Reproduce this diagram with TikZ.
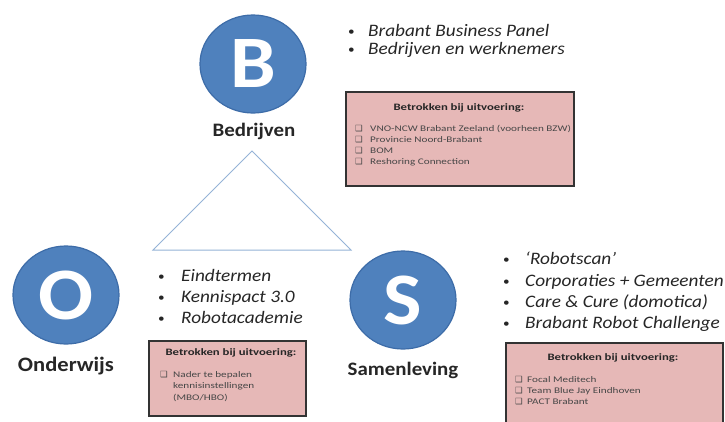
\documentclass[tikz,border=0pt]{standalone}
\usepackage{fontspec}
\setmainfont[FakeStretch=1.1]{Carlito}
\newfontfamily\boxfont[FakeStretch=1.3]{Carlito}
\newfontfamily\dejavu{DejaVu Sans}
\usetikzlibrary{shapes.geometric}
\definecolor{circblue}{HTML}{4F81BD}
\definecolor{circedge}{HTML}{3D6CA8}
\definecolor{boxpink}{HTML}{E6B8B7}
\definecolor{triline}{HTML}{95B3D7}
\definecolor{txtgray}{HTML}{262626}
\newcommand{\cbx}[1]{\makebox[#1][l]{\dejavu\fontsize{8.5}{8.5}\selectfont ❑}}
\begin{document}
\begin{tikzpicture}[x=1pt,y=-1pt,
  pillar/.style={ellipse, fill=circblue, draw=circedge, line width=1.2pt,
    minimum width=106pt, minimum height=98pt, inner sep=0pt, text=white,
    font=\bfseries\fontsize{74}{74}\selectfont},
  pname/.style={font=\bfseries\fontsize{19}{19}\selectfont, text=txtgray, inner sep=0pt},
  bul/.style={anchor=base west, inner sep=0pt, font=\fontsize{12}{12}\selectfont, text=txtgray},
  blist/.style={anchor=base west, inner sep=0pt, font=\itshape\fontsize{17.5}{17.5}\selectfont, text=txtgray},
  infobox/.style={draw=black!80, line width=1.6pt, fill=boxpink, inner sep=0pt, anchor=north west},
  boxtitle/.style={anchor=base, inner sep=0pt, font=\boxfont\bfseries\fontsize{9.8}{9.8}\selectfont, text=black!85},
  boxitem/.style={anchor=base west, inner sep=0pt, font=\boxfont\fontsize{8.6}{8.6}\selectfont, text=black!72},
  tri/.style={draw=triline, line width=1pt, line join=miter}
]
\useasboundingbox (0,0) rectangle (725,421);
\fill[white] (0,0) rectangle (725,421);

% triangle
\coordinate (tA) at (252,151);
\coordinate (tL) at (153,250);
\coordinate (tR) at (351,250);
\draw[tri] (tA) -- (tL) -- (tR) -- cycle;

% pillars
\node[pillar] (B) at (253,64) {B};
\node[pillar] (O) at (66,295) {O};
\node[pillar] (S) at (403,300) {S};
\node[pname] (Bn) at (254,131) {Bedrijven};
\node[pname, font=\bfseries\fontsize{20.5}{20.5}\selectfont] (On) at (66,366) {Onderwijs};
\node[pname] (Sn) at (403,370) {Samenleving};

% B bullets
\node[bul] (bb1) at (348,35) {•};
\node[blist] (bt1) at (368,36) {Brabant Business Panel};
\node[bul] (bb2) at (348,53) {•};
\node[blist] (bt2) at (368,54) {Bedrijven en werknemers};

% O bullets
\node[bul] (ob1) at (158,280) {•};
\node[blist] (ot1) at (181,281) {Eindtermen};
\node[bul] (ob2) at (158,301) {•};
\node[blist] (ot2) at (181,302) {Kennispact 3.0};
\node[bul] (ob3) at (158,322) {•};
\node[blist] (ot3) at (181,323) {Robotacademie};

% S bullets
\node[bul] (sb1) at (503,263) {•};
\node[blist] (st1) at (525,264) {‘Robotscan’};
\node[bul] (sb2) at (503,285) {•};
\node[blist] (st2) at (525,286) {Corporaties + Gemeenten};
\node[bul] (sb3) at (503,306) {•};
\node[blist] (st3) at (525,307) {Care \& Cure (domotica)};
\node[bul] (sb4) at (503,327) {•};
\node[blist] (st4) at (525,328) {Brabant Robot Challenge};

% B box
\node[infobox, minimum width=228pt, minimum height=94pt] (Bbox) at (345,91) {};
\node[boxtitle] (Btit) at (459,110) {Betrokken bij uitvoering:};
\node[boxitem] (Bi1) at (355,131) {\cbx{15pt}VNO-NCW Brabant Zeeland (voorheen BZW)};
\node[boxitem] (Bi2) at (355,142) {\cbx{15pt}Provincie Noord-Brabant};
\node[boxitem] (Bi3) at (355,153) {\cbx{15pt}BOM};
\node[boxitem] (Bi4) at (355,164) {\cbx{15pt}Reshoring Connection};

% O box
\node[infobox, minimum width=157pt, minimum height=75pt] (Obox) at (148,340) {};
\node[boxtitle] (Otit) at (231,355) {Betrokken bij uitvoering:};
\node[boxitem] (Oi1) at (160,377) {\cbx{13pt}Nader te bepalen};
\node[boxitem] (Oi2) at (173,388.5) {kennisinstellingen};
\node[boxitem] (Oi3) at (173,400) {(MBO/HBO)};

% S box
\node[infobox, minimum width=217pt, minimum height=90pt] (Sbox) at (505,342) {};
\node[boxtitle] (Stit) at (613,360) {Betrokken bij uitvoering:};
\node[boxitem] (Si1) at (515,382) {\cbx{12pt}Focal Meditech};
\node[boxitem] (Si2) at (515,393) {\cbx{12pt}Team Blue Jay Eindhoven};
\node[boxitem] (Si3) at (515,404) {\cbx{12pt}PACT Brabant};
\end{tikzpicture}
\end{document}
